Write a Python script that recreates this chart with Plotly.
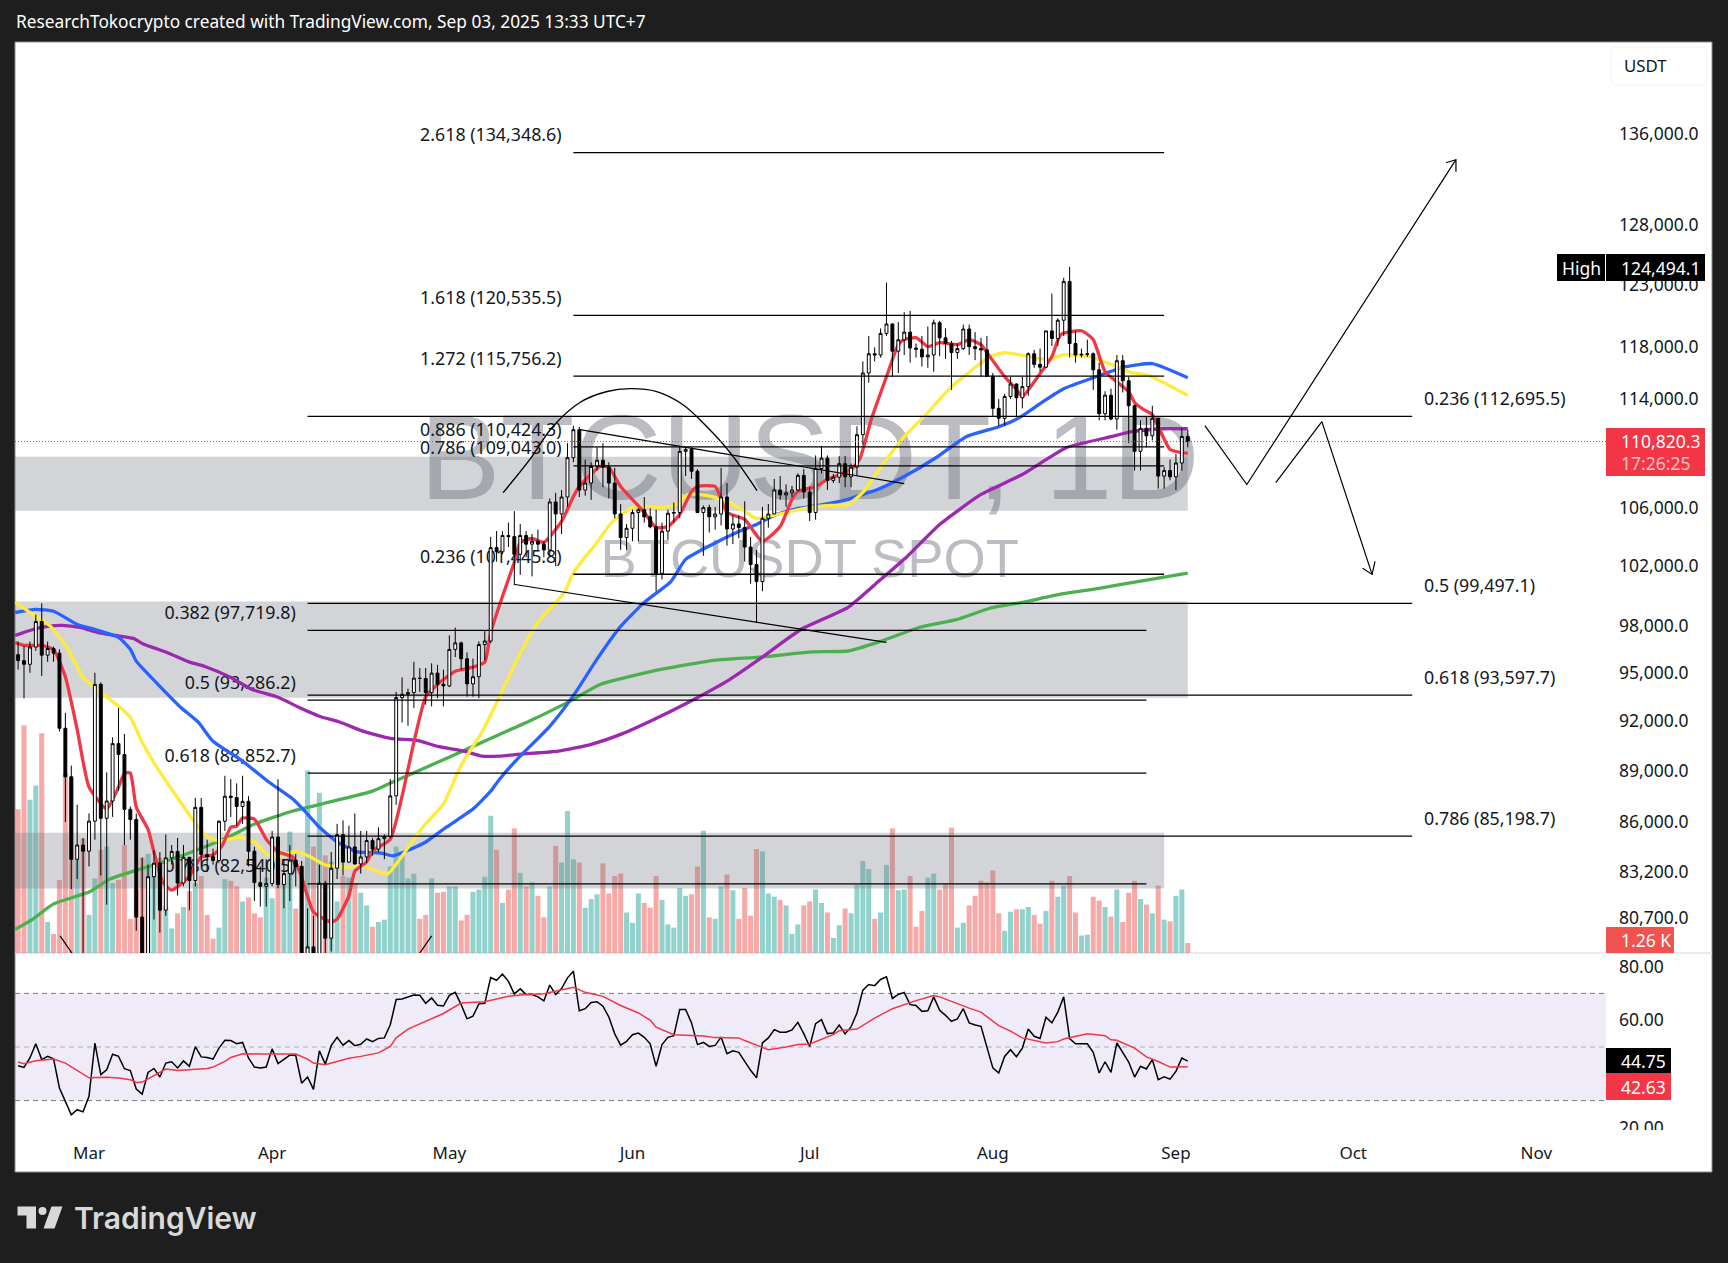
import numpy as np
import pandas as pd
import plotly.graph_objects as go

# Daily BTCUSDT candles, Feb 17 to Sep 3 2025
opens = [96150,95770,95540,96640,98300,96120,96550,96250,91550,88640,83900,84700,
    84350,86060,94270,86220,87220,90620,89960,86740,86150,80730,78600,82930,83680,81100,83980,84340,82580,84010,82720,86850,84170,84040,83830,86050,87500,87420,86900,87200,84350,82600,82400,
    82550,85150,82500,83100,83850,83500,78370,79140,76270,82570,79600,83400,85290,83740,84590,83640,84030,84950,84470,85060,85170,87520,93440,93650,93750,94660,94640,93750,94980,94280,
    94170,96490,96910,95890,94300,94750,96800,97030,103260,102970,104100,104020,102800,104100,103500,103700,103500,103100,106450,105600,106800,109640,111700,107300,107800,109000,109450,108950,107800,105600,103950,
    104600,105700,105900,105400,104700,101500,104400,105650,105700,110100,110250,108650,105700,106050,105400,105600,106800,104550,104900,104650,103300,102100,100950,105300,105600,107300,106950,107100,107300,108350,
    107150,105700,108850,109600,107990,108220,109200,108250,108950,111330,116000,117500,117400,119100,119850,117700,118600,119200,117950,117850,117250,117400,119950,118750,118300,117600,117900,119450,118050,117900,117800,
    115750,113300,112550,114200,115150,114100,114950,117500,116670,116450,119300,118700,120150,123300,118300,117400,117450,117500,116250,112900,114300,112500,116950,115400,113500,110100,111800,111250,112550,108300,108700,
    108250,109250,111200]
highs = [97000,96700,97000,98750,99500,97000,96670,96500,92500,89300,87000,85100,
    86500,95000,94400,88900,91000,92800,91200,86900,86500,84000,83600,84400,84300,85300,84700,85100,84700,84000,87400,87400,85000,84500,86100,88700,88500,88250,88700,87500,84600,83500,83900,
    85500,88500,83900,84700,84200,83800,81200,80800,83600,82700,84300,85900,86100,85800,86500,85500,85500,85100,85700,85300,88500,93800,94700,94000,95700,95300,95300,95600,95500,95200,
    97400,97900,97000,96300,95900,97000,97700,104000,104400,104400,105000,105800,104900,104400,104200,104500,103700,106700,107100,107300,110700,112000,111900,109500,109300,110400,110700,109300,108900,106300,104900,
    105900,106000,106800,106000,105900,105000,105900,106400,110500,110400,110400,108800,106200,106250,106100,108900,107800,105500,105500,106500,104000,103100,106100,106300,108100,108300,107700,107600,108500,108800,
    107500,109800,110500,109800,108450,109750,109750,109200,111950,116900,118900,118000,119500,123200,119900,120000,120800,120900,118300,118900,119650,120200,120100,119500,118500,118300,119800,119800,119200,118750,118900,
    116000,114000,114400,115700,115200,115700,117600,117800,117900,119300,122300,120300,123600,124494.1,119300,117900,118600,117600,116800,114600,114800,117400,117400,115700,113600,112400,112700,113500,112600,108950,109500,
    109900,111800,111700]
lows = [95200,93400,95000,96400,94800,95700,95700,91350,86000,82250,82800,78200,
    83500,85000,83000,81400,86300,87800,84700,85000,80000,77500,76600,80600,79900,80800,83600,81900,82400,81100,82400,83600,83200,83600,83700,85500,86300,85800,85900,83500,81600,81300,81300,
    82400,82300,81200,81600,82400,77150,74500,76200,74600,78400,78900,82800,83000,83700,83600,83100,83700,84100,84300,83900,85100,87000,91900,91700,92800,93800,93000,92900,93400,92900,
    94100,96000,95200,93500,93500,93400,95800,96900,102300,102800,103300,100700,101400,102600,101300,103100,102600,102600,102000,104200,106100,109300,106800,106900,106600,108700,107500,106700,105300,103100,103100,
    103700,103700,105000,104600,100300,101100,103800,105000,105300,108300,108100,105700,102700,104300,104500,104800,103400,103500,103900,102300,100800,98200,100300,104650,105600,106600,106100,106800,107200,106700,
    105100,105200,108500,107300,107800,107800,107500,107500,108350,110600,115250,116900,117200,118900,115700,116000,117400,116800,117200,116500,116400,116100,117300,117100,114700,117100,117800,117400,117000,115700,115700,
    112700,112000,112000,114000,112700,113300,114250,116400,116100,116400,118100,118100,118900,117200,116800,117200,117250,114700,112400,112400,112400,111700,114500,110700,108700,108700,110400,110900,107400,107400,108000,
    107300,108700,110400]
closes = [95770,95540,96640,98300,96120,96550,96250,91550,88640,83900,84700,84350,
    86060,94270,86220,87220,90620,89960,86740,86150,80730,78600,82930,83680,81100,83980,84340,82580,84010,82720,86850,84170,84040,83830,86050,87500,87420,86900,87200,84350,82600,82400,82550,
    85150,82500,83100,83850,83500,78370,79140,76270,82570,79600,83400,85290,83740,84590,83640,84030,84950,84470,85060,85170,87520,93440,93650,93750,94660,94640,93750,94980,94280,94170,
    96490,96910,95890,94300,94750,96800,97030,103260,102970,104100,104020,102800,104100,103500,103700,103500,103100,106450,105600,106800,109640,111700,107300,107800,109000,109450,108950,107800,105600,103950,104600,
    105700,105900,105400,104700,101500,104400,105650,105700,110100,110250,108650,105700,106050,105400,105600,106800,104550,104900,104650,103300,102100,100950,105300,105600,107300,106950,107100,107300,108350,107150,
    105700,108850,109600,107990,108220,109200,108250,108950,111330,116000,117500,117400,119100,119850,117700,118600,119200,117950,117850,117250,117400,119950,118750,118300,117600,117900,119450,118050,117900,117800,115750,
    113300,112550,114200,115150,114100,114950,117500,116670,116450,119300,118700,120150,123300,118300,117400,117450,117500,116250,112900,114300,112500,116950,115400,113500,110100,111800,111250,112550,108300,108700,108250,
    109250,111200,110820.3]

# Volume in thousands of BTC
volumes = [18.1,28.7,19.3,21.1,27.7,3.9,2.4,9.2,22.6,22,11.8,14.4,
    4.8,9.4,13,13.4,8.8,9.2,13.6,4.3,8,12,12.5,10.8,12,5.9,3.1,5,5.8,7.8,8.8,9.7,4.8,1.8,3.2,9.3,9.1,8.4,6.5,7,5,4.5,9.5,
    6.9,12.4,9,15.3,5.6,11,23,13.4,20.2,12.3,11.5,6.5,9.7,9.5,8.8,7.6,6,3.3,3.9,4.2,10.9,13.4,12.3,9.4,10,4.3,4.8,9.4,7.6,7.7,
    8.4,8.4,4.1,4.8,7.7,8,9.6,17.3,13,6.3,8,15.7,10.1,8.4,8.9,7.2,4.5,8.4,13.5,11.4,17.9,11.8,11.4,5.7,6.8,7.4,11.3,7.5,9.7,10,5.1,
    3.8,7.5,6.3,5.7,9.7,6.7,3.6,3.2,8.2,7.2,7.4,10.9,15.4,4.5,4.3,8.4,9.9,7.9,4.3,8.2,4.7,13.1,12.8,7.5,7.1,6.7,6,2.4,3.6,6,
    6.5,8,6.3,5.1,1.9,3.5,5.6,5,8.6,11.6,10.6,4.3,5.1,11.1,15.7,7.9,8,9.7,3.3,5.3,9.5,10,8,8.7,15.8,3.2,3.8,6,7.2,9.1,8.9,
    10.4,5,2.8,5.2,5.5,5.5,5.8,4.8,3.7,5.3,9.1,7.1,8.5,9.7,5.1,2.2,2.3,7.1,6.6,5.8,4.6,8,3.9,7.6,9.1,6.8,6.1,5,8.5,4.2,4,
    7.2,8,1.26]

rsi = [43.0,42.4,45.9,51.2,45.3,46.5,45.6,34.7,29.7,24.7,26.6,25.8,31.6,51.4,39.7,41.5,47.3,46.5,41.9,41.2,
    34.3,32.4,40.5,42.0,38.8,44.0,44.5,42.2,44.8,42.8,50.1,46.3,46.1,45.5,49.6,52.5,52.4,51.2,51.7,45.9,
    42.5,42.2,42.5,49.3,43.8,45.3,47.0,46.8,36.5,38.8,34.2,48.6,43.6,50.5,53.6,50.7,52.4,50.5,51.0,53.0,
    52.0,53.2,53.4,58.3,67.7,67.9,68.7,69.4,69.3,66.3,68.3,65.6,65.3,69.3,70.4,65.8,60.5,61.5,66.1,66.3,
    75.9,74.9,77.2,74.5,69.8,71.7,69.6,69.6,68.7,67.2,73.1,69.6,71.8,75.8,78.3,63.5,64.3,66.6,66.9,65.2,
    61.2,54.9,50.7,52.1,54.6,55.2,53.6,51.2,42.8,50.9,53.6,54.2,64.0,64.0,59.0,50.9,51.7,50.2,50.6,53.7,
    47.5,48.6,48.0,44.4,41.3,38.5,51.5,53.4,56.5,55.5,55.5,56.4,59.2,55.0,50.2,58.7,60.2,55.0,55.2,58.2,
    54.9,57.5,62.7,71.2,73.3,72.9,75.2,76.2,68.1,69.6,70.4,65.8,65.5,63.3,63.5,68.7,63.7,61.8,59.6,60.5,
    64.3,59.0,58.2,57.7,49.6,42.2,40.3,46.5,49.0,46.4,49.6,56.7,54.0,53.2,61.1,59.0,63.0,68.7,53.1,51.2,
    51.2,51.2,48.0,40.3,44.5,40.5,51.5,48.1,44.4,38.8,42.8,41.8,45.3,37.8,38.9,38.0,40.9,45.9,44.75]

# RSI moving average, read at these bar numbers
rsi_ma_bars = [0,1,3,6,8,10,12,15,17,19,20,21,23,25,27,30,32,33,35,36,38,41,44,47,49,50,52,54,56,58,61,63,64,66,69,72,75,79,83,86,89,92,94,96,99,102,105,107,108,111,114,116,118,122,123,126,127,130,132,134,138,139,142,145,148,152,155,156,159,161,163,166,168,170,174,176,177,181,184,185,186,189,191,193,195,198]
rsi_ma = [44.4,43.8,44.9,45.5,44.0,41.2,38.5,38.7,38.4,37.8,36.8,36.9,39.3,41.8,41.2,41.8,42.0,42.5,44.6,46.1,47.5,47.4,47.3,47.4,45.5,44.0,43.4,44.5,45.8,46.5,47.8,50.2,53.4,56.7,59.6,62.5,66.4,66.9,68.9,69.6,69.9,71.4,72.3,70.4,68.9,65.5,62.7,60.0,57.4,54.6,54.2,54.1,53.5,53.4,52.4,50.0,49.0,50.0,50.9,51.1,54.6,56.1,56.7,60.8,64.3,67.3,69.2,68.7,66.1,64.5,63.0,58.0,55.9,53.4,51.5,52.0,53.0,54.9,54.2,52.7,52.5,49.6,46.3,44.6,42.5,42.63]

# Moving averages, days are counted from Mar 1
red_days = [-12.5,-11,-8,-6,-4,-2,0,3,5,6,7,8,10,11,12.5,14,17,19,21,22.5,24,25,26,28,30,32,34.5,36,38,41,42,44,45,47,48,51,53,55,57,59,62,65,67,68,70,72,73,75,77,80,82,83,86.5,88,90,94,96,98,100,102,103,106,108,111,114,117,119,120,123,125,129,130.5,132.5,135,137,138,140,142,144,147,149,151,152,155,157,158,160.5,163,164.5,168,170,172,176,177,178.5,180,183,186]
red_vals = [96790,96600,96600,96330,94600,91340,87900,86620,87900,88720,88720,86730,85460,84180,82500,82070,82840,83900,84010,84510,85580,85640,86100,86040,84900,84180,83900,82780,80880,80340,80500,81750,83110,83620,84230,84900,87370,90560,93350,94120,94950,95210,95530,97430,99810,102100,103460,103730,103460,104920,106680,107390,108830,108760,107390,105550,104490,104560,105410,107030,107390,107390,105550,105060,103530,104560,106470,107030,107390,107890,108610,109400,112400,115540,118030,118430,118580,117880,118190,118030,118430,118030,117410,115540,114550,114020,115460,117100,118820,119130,118430,115930,114400,113570,113040,112660,110070,109780]

yellow_days = [-12.5,-9.5,-6.5,-3.5,-1,2.5,5,7,9,12,14,17.5,19.5,22,25.5,28,30,32,35,37.5,40,43.5,46.5,50.5,53,56.5,60,63,66.5,69.5,72.5,76,80.5,82,86,88.5,92,94.5,96.5,99,101.5,104.5,107,110,113,116.5,122,125.5,128.5,131,134,138,142,145.5,148.5,152.5,155,159,162.5,165,169.5,174,176.5,179.5,182.5,186]
yellow_vals = [99414,98620,97830,96330,94560,93490,92765,92090,90560,88780,87780,86040,85180,84790,85010,84740,84070,83900,84230,83900,83450,83340,83390,82950,83960,85580,86910,89190,91160,93350,95720,98100,100070,101410,103460,104850,105900,105970,105900,106040,106820,106750,106470,105900,105120,105410,105900,106040,106110,106970,108760,111010,112810,114550,115700,117100,117410,117100,116860,117250,117100,116310,115850,115620,114940,114100]

blue_days = [-12.5,-9,-6,-2,1,5,7,8,12,15.5,18.5,21,26,30.5,34.5,36.5,39,42,45.5,49.5,51.5,54.5,57,60.5,65,68,69.5,72.5,78,82,86,90,94,98.5,101,105.5,110,113,116,120,123.5,128.5,130.5,133.5,138,143.5,148.5,154,157.5,161.5,165,170,175.5,180,186]
blue_vals = [98740,98950,98820,97960,97630,97120,96350,95590,94000,92700,91780,90620,89430,88180,87200,86510,85580,84740,84180,84120,83960,84340,84740,85580,86620,87660,88360,89550,91530,93420,95720,97830,99410,100800,102300,103320,104210,104710,105340,105830,106040,106470,106750,107170,108100,109500,111010,111750,112430,113640,114620,115460,116310,116550,115460]

purple_days = [-12.5,-9.5,-7,-4.5,-1.5,1.5,4.5,7.5,9,13.5,17,19.5,24,27.5,32,35.5,39,42.5,46.5,51,55.5,59,63.5,66.5,69.5,73,79.5,85,90,95,101.5,108.5,113.5,120.5,128.5,134,138.5,144,151,158,165.5,173,176.5,181.5,186]
purple_vals = [97240,97630,97830,97900,97760,97430,97240,97050,96730,96100,95530,95270,94560,93820,93320,92700,92150,91780,91220,90800,90680,90320,90030,89730,89730,89850,90030,90440,91040,91840,93010,94440,95720,97630,99080,100930,102500,104700,106820,108250,110210,111010,111380,111600,111600]

green_days = [-12.5,-9.5,-6,0,3.5,7.5,11.5,16.5,23.5,28,34.5,41.5,48,52.5,57.5,64,69.5,74.5,82,86.5,97,106,113.5,122.5,128.5,134,140.5,147,152.5,158,164.5,171,177.5,186]
green_vals = [79950,80500,81320,81960,82670,83110,83500,84070,85010,85760,86510,87090,87660,88360,89130,90150,91040,91840,93190,94120,95080,95660,95850,96180,96240,96860,97760,98290,99020,99410,99950,100340,100800,101360]

# Fib levels: labels, prices and the span of days from Mar 1
fib_a_labels = ["2.618 (134,348.6)", "1.618 (120,535.5)", "1.272 (115,756.2)", "0.886 (110,424.3)", "0.786 (109,043.0)", "0.236 (101,445.8)"]
fib_a_prices = [134348.6, 120535.5, 115756.2, 110424.3, 109043.0, 101445.8]
fib_a_days = [82, 182]
fib_b_labels = ["0.382 (97,719.8)", "0.5 (93,286.2)", "0.618 (88,852.7)", "0.786 (82,540.5)"]
fib_b_prices = [97719.8, 93286.2, 88852.7, 82540.5]
fib_b_days = [37, 179]
fib_c_labels = ["0.236 (112,695.5)", "0.5 (99,497.1)", "0.618 (93,597.7)", "0.786 (85,198.7)"]
fib_c_prices = [112695.5, 99497.1, 93597.7, 85198.7]
fib_c_days = [37, 224]

# Grey zones: top, bottom, last day
zone_tops = [109530, 99470, 85270]
zone_bottoms = [105670, 93290, 82150]
zone_ends = [186, 186, 182]

# Hand drawn lines on the chart
arc_days = [70.1,74.6,78.5,83.1,87.7,91.6,96.1,100.5,104.6,108.5,113.1]
arc_prices = [106950,109330,111750,113570,114400,114620,114400,113420,111750,109860,107100]
trend_lines = [
    ([83.1, 138], [111530, 107590]),
    ([72.1, 135], [100600, 96790]),
    ([-4.9, -2], [79600, 78300]),
    ([56, 58], [78700, 79600]),
    ([188.9, 196, 231.4], [111830, 107530, 133510]),
    ([229.7, 231.4, 231.4], [133240, 133510, 132440]),
    ([200.9, 208.7, 217.2], [107670, 112130, 101280]),
    ([215.6, 217.2, 217.7], [101690, 101280, 102170]),
]

price_ticks = [136000, 128000, 123000, 118000, 114000, 106000, 102000, 98000, 95000, 92000, 89000, 86000, 83200, 80700]
rsi_ticks = [80, 60, 20]
month_ticks = ["2025-03-01", "2025-04-01", "2025-05-01", "2025-06-01", "2025-07-01", "2025-08-01", "2025-09-01", "2025-10-01", "2025-11-01"]
month_names = ["Mar", "Apr", "May", "Jun", "Jul", "Aug", "Sep", "Oct", "Nov"]

W, H = 1728, 1263
UI_FONT = "Noto Sans"
INK = "#131722"
RED = "#F23645"
ZONE = "rgba(120,123,134,0.33)"

READ_FIX = 1.00153

dates = pd.date_range("2025-02-17", periods=len(closes))
first_day = pd.Timestamp("2025-03-01")
x_start = pd.Timestamp("2025-02-16 11:24")
x_end = pd.Timestamp("2025-11-12 19:12")


def to_dates(days):
    return [first_day + pd.Timedelta(days=d) for d in days]


def read(vals):
    return [v * READ_FIX for v in vals]


def px(x):
    return x / W


def py(y):
    return 1 - y / H


def box(x0, y0, x1, y1, color):
    return dict(type="rect", xref="paper", yref="paper", x0=px(x0), x1=px(x1), y0=py(y0), y1=py(y1),
                fillcolor=color, line_width=0, layer="above")


def label(x, y, text, color="#FFFFFF", size=17.5, anchor="left", family=UI_FONT, **kw):
    return dict(xref="paper", yref="paper", x=px(x), y=py(y), text=text, showarrow=False, xanchor=anchor,
                yanchor="middle", font=dict(family=family, size=size, color=color, **kw))


fig = go.Figure()

# Volume sits lowest, the grey zones lie over it
vol_colors = ["rgba(38,166,154,0.5)" if c >= o else "rgba(239,83,80,0.5)" for o, c in zip(opens, closes)]
fig.add_trace(go.Bar(x=dates, y=volumes, marker=dict(color=vol_colors, line_width=0), yaxis="y"))

# Watermark
fig.add_trace(go.Scatter(x=to_dates([122]), y=[108800], mode="text", text=["BTCUSDT, 1D"], yaxis="y2",
                         textfont=dict(family="Liberation Sans", size=121, color="rgba(120,123,134,0.5)")))
fig.add_trace(go.Scatter(x=to_dates([122]), y=[102160], mode="text", text=["BTCUSDT SPOT"], yaxis="y2",
                         textfont=dict(family="Liberation Sans", size=54.3, color="rgba(120,123,134,0.5)")))

for top, bottom, end in zip(read(zone_tops), read(zone_bottoms), zone_ends):
    end_date = to_dates([end])[0]
    fig.add_trace(go.Scatter(x=[x_start, end_date, end_date, x_start, x_start], y=[top, top, bottom, bottom, top],
                             mode="none", fill="toself", fillcolor=ZONE, yaxis="y2"))

# Fib labels stay under the candles
for labels, prices, pos, day in [(fib_a_labels, fib_a_prices, "middle left", 80),
                                 (fib_b_labels, fib_b_prices, "middle left", 35),
                                 (fib_c_labels, fib_c_prices, "middle right", 226)]:
    fig.add_trace(go.Scatter(x=to_dates([day] * len(prices)), y=[p * 1.0106 for p in prices], mode="text", text=labels,
                             textposition=pos, yaxis="y2", textfont=dict(family=UI_FONT, size=17.8, color=INK)))

for days, vals, color in [(green_days, green_vals, "#4CAF50"), (purple_days, purple_vals, "#9C27B0"),
                          (blue_days, blue_vals, "#2962FF"), (yellow_days, yellow_vals, "#FFEB3B"),
                          (red_days, red_vals, RED)]:
    fig.add_trace(go.Scatter(x=to_dates(days), y=read(vals), mode="lines", yaxis="y2",
                             line=dict(color=color, width=3.3, shape="spline", smoothing=0.5)))

fig.add_trace(go.Candlestick(x=dates, open=opens, high=highs, low=lows, close=closes, yaxis="y3", whiskerwidth=0,
                             increasing=dict(fillcolor="#FFFFFF", line=dict(color="#000000", width=1)),
                             decreasing=dict(fillcolor="#000000", line=dict(color="#000000", width=1))))

for prices, days in [(fib_a_prices, fib_a_days), (fib_b_prices, fib_b_days), (fib_c_prices, fib_c_days)]:
    for p in prices:
        fig.add_trace(go.Scatter(x=to_dates(days), y=[p, p], mode="lines", line=dict(color="#000000", width=1.3), yaxis="y3"))

fig.add_trace(go.Scatter(x=to_dates(arc_days), y=read(arc_prices), mode="lines", yaxis="y3",
                         line=dict(color="#000000", width=1.4, shape="spline")))
for days, prices in trend_lines:
    fig.add_trace(go.Scatter(x=to_dates(days), y=read(prices), mode="lines", line=dict(color="#000000", width=1.2), yaxis="y3"))

fig.add_trace(go.Scatter(x=[x_start, x_end], y=[closes[-1], closes[-1]], mode="lines", yaxis="y3",
                         line=dict(color=RED, width=1, dash="1px,2px")))

# RSI pane
rsi_high = [max(v, 70) for v in rsi]
rsi_low = [min(v, 30) for v in rsi]
fig.add_trace(go.Scatter(x=dates, y=[70] * len(rsi), mode="none", yaxis="y4"))
fig.add_trace(go.Scatter(x=dates, y=rsi_high, mode="none", fill="tonexty", fillcolor="rgba(76,175,80,0.12)", yaxis="y4"))
fig.add_trace(go.Scatter(x=dates, y=[30] * len(rsi), mode="none", yaxis="y4"))
fig.add_trace(go.Scatter(x=dates, y=rsi_low, mode="none", fill="tonexty", fillcolor="rgba(242,54,69,0.1)", yaxis="y4"))
fig.add_trace(go.Scatter(x=dates, y=rsi, mode="lines", line=dict(color="#000000", width=1.5), yaxis="y4"))
fig.add_trace(go.Scatter(x=[dates[i] for i in rsi_ma_bars], y=rsi_ma, mode="lines", line=dict(color=RED, width=1.5), yaxis="y4"))

main_domain = [py(953), py(42)]
price_range = [np.log10(78700 * READ_FIX), np.log10(144400 * READ_FIX)]
hidden_axis = dict(domain=main_domain, showgrid=False, zeroline=False, showticklabels=False, ticks="")

shapes = [
    dict(type="rect", xref="paper", yref="paper", x0=px(15), x1=px(1712), y0=py(1172), y1=py(42),
         fillcolor="#FFFFFF", line=dict(color="#8A8A8A", width=1), layer="below"),
    dict(type="rect", xref="paper", yref="y4", x0=px(15), x1=px(1606), y0=30, y1=70,
         fillcolor="rgba(126,87,194,0.12)", line_width=0, layer="below"),
    dict(type="line", xref="paper", yref="paper", x0=px(15), x1=px(1712), y0=py(953), y1=py(953),
         line=dict(color="#E0E3EB", width=1.5), layer="below"),
]
for level, color in [(70, "#787B86"), (50, "rgba(120,123,134,0.55)"), (30, "#787B86")]:
    shapes.append(dict(type="line", xref="paper", yref="y4", x0=px(15), x1=px(1606), y0=level, y1=level,
                       line=dict(color=color, width=1, dash="5px,4px"), layer="below"))

shapes += [
    # covers the clipped bottom of the 20.00 tick
    box(1607, 1130, 1711, 1171, "#FFFFFF"),
    dict(type="path", xref="paper", yref="paper", layer="above", fillcolor="#FFFFFF", line=dict(color="#F0F3FA", width=1),
         path=f"M{px(1617)},{py(47)} L{px(1701)},{py(47)} Q{px(1707)},{py(47)} {px(1707)},{py(53)} L{px(1707)},{py(79)} "
              f"Q{px(1707)},{py(85)} {px(1701)},{py(85)} L{px(1617)},{py(85)} Q{px(1611)},{py(85)} {px(1611)},{py(79)} "
              f"L{px(1611)},{py(53)} Q{px(1611)},{py(47)} {px(1617)},{py(47)} Z"),
    box(1557, 254, 1605, 281, "#000000"),
    box(1606, 254, 1705, 281, "#000000"),
    box(1606, 428, 1705, 476, RED),
    box(1606, 927, 1674, 953, "#EF5350"),
    box(1606, 1048, 1671, 1073, "#000000"),
    box(1606, 1073, 1671, 1100, RED),
    # TradingView logo
    dict(type="path", xref="paper", yref="paper", layer="above", fillcolor="#D9D9D9", line_width=0,
         path=f"M{px(17.5)},{py(1206.5)} L{px(36)},{py(1206.5)} L{px(36)},{py(1228.5)} L{px(26.5)},{py(1228.5)} "
              f"L{px(26.5)},{py(1215.5)} L{px(17.5)},{py(1215.5)} Z"),
    dict(type="circle", xref="paper", yref="paper", layer="above", fillcolor="#D9D9D9", line_width=0,
         x0=px(38.5), x1=px(46.5), y0=py(1215), y1=py(1207)),
    dict(type="path", xref="paper", yref="paper", layer="above", fillcolor="#D9D9D9", line_width=0,
         path=f"M{px(51.5)},{py(1206.5)} L{px(62.5)},{py(1206.5)} L{px(54.5)},{py(1228.5)} L{px(43.5)},{py(1228.5)} Z"),
]

annotations = [
    label(14, 22, "ResearchTokocrypto created with TradingView.com, Sep 03, 2025 13:33 UTC+7", size=17.3),
    label(72, 1218, "TradingView", color="#D9D9D9", size=30, family="Inter", weight=600),
    label(1622, 66, "USDT", color=INK, size=16.8),
    label(1581, 267.5, "High", anchor="center"),
    label(1619, 267.5, "124,494.1"),
    label(1619, 441, "110,820.3"),
    label(1619, 463, "17:26:25", color="rgba(255,255,255,0.7)"),
    label(1619, 940, "1.26 K"),
    label(1619, 1060.5, "44.75"),
    label(1619, 1086.5, "42.63"),
]

fig.update_layout(
    width=W,
    height=H,
    margin=dict(l=0, r=0, t=0, b=0, pad=0, autoexpand=False),
    paper_bgcolor="#1E1E1E",
    plot_bgcolor="rgba(0,0,0,0)",
    showlegend=False,
    hovermode=False,
    bargap=0.15,
    shapes=shapes,
    annotations=annotations,
    font=dict(family=UI_FONT, size=17.5, color=INK),
    xaxis=dict(domain=[px(15), px(1606)], range=[x_start, x_end], type="date", anchor="y4",
               rangeslider=dict(visible=False), automargin=False,
               showgrid=False, zeroline=False, ticks="", tickvals=month_ticks, ticktext=month_names,
               ticklabelstandoff=11, tickfont=dict(family=UI_FONT, size=17, color=INK)),
    yaxis=dict(hidden_axis, range=[0, 114.8], anchor="x"),
    yaxis2=dict(hidden_axis, type="log", range=price_range, overlaying="y", anchor="x"),
    yaxis3=dict(domain=main_domain, type="log", range=price_range, overlaying="y", anchor="x", side="right",
                showgrid=False, zeroline=False, ticks="", tickvals=price_ticks,
                ticktext=[f"{t:,.1f}" for t in price_ticks], ticklabelstandoff=12,
                tickfont=dict(family=UI_FONT, size=17.5, color=INK)),
    yaxis4=dict(domain=[py(1130), py(954)], range=[19.03, 84.7], anchor="x", side="right",
                showgrid=False, zeroline=False, ticks="", tickvals=rsi_ticks,
                ticktext=[f"{t:.2f}" for t in rsi_ticks], ticklabelstandoff=12,
                tickfont=dict(family=UI_FONT, size=17.5, color=INK)),
)

page_fix = ("document.documentElement.style.cssText='margin:0;height:1263px;overflow:hidden;background:#1E1E1E';"
            "document.body.style.cssText='margin:0;height:1263px;overflow:hidden;background:#1E1E1E';")
fig.write_html("out.html", config={"displayModeBar": False}, post_script=page_fix)
